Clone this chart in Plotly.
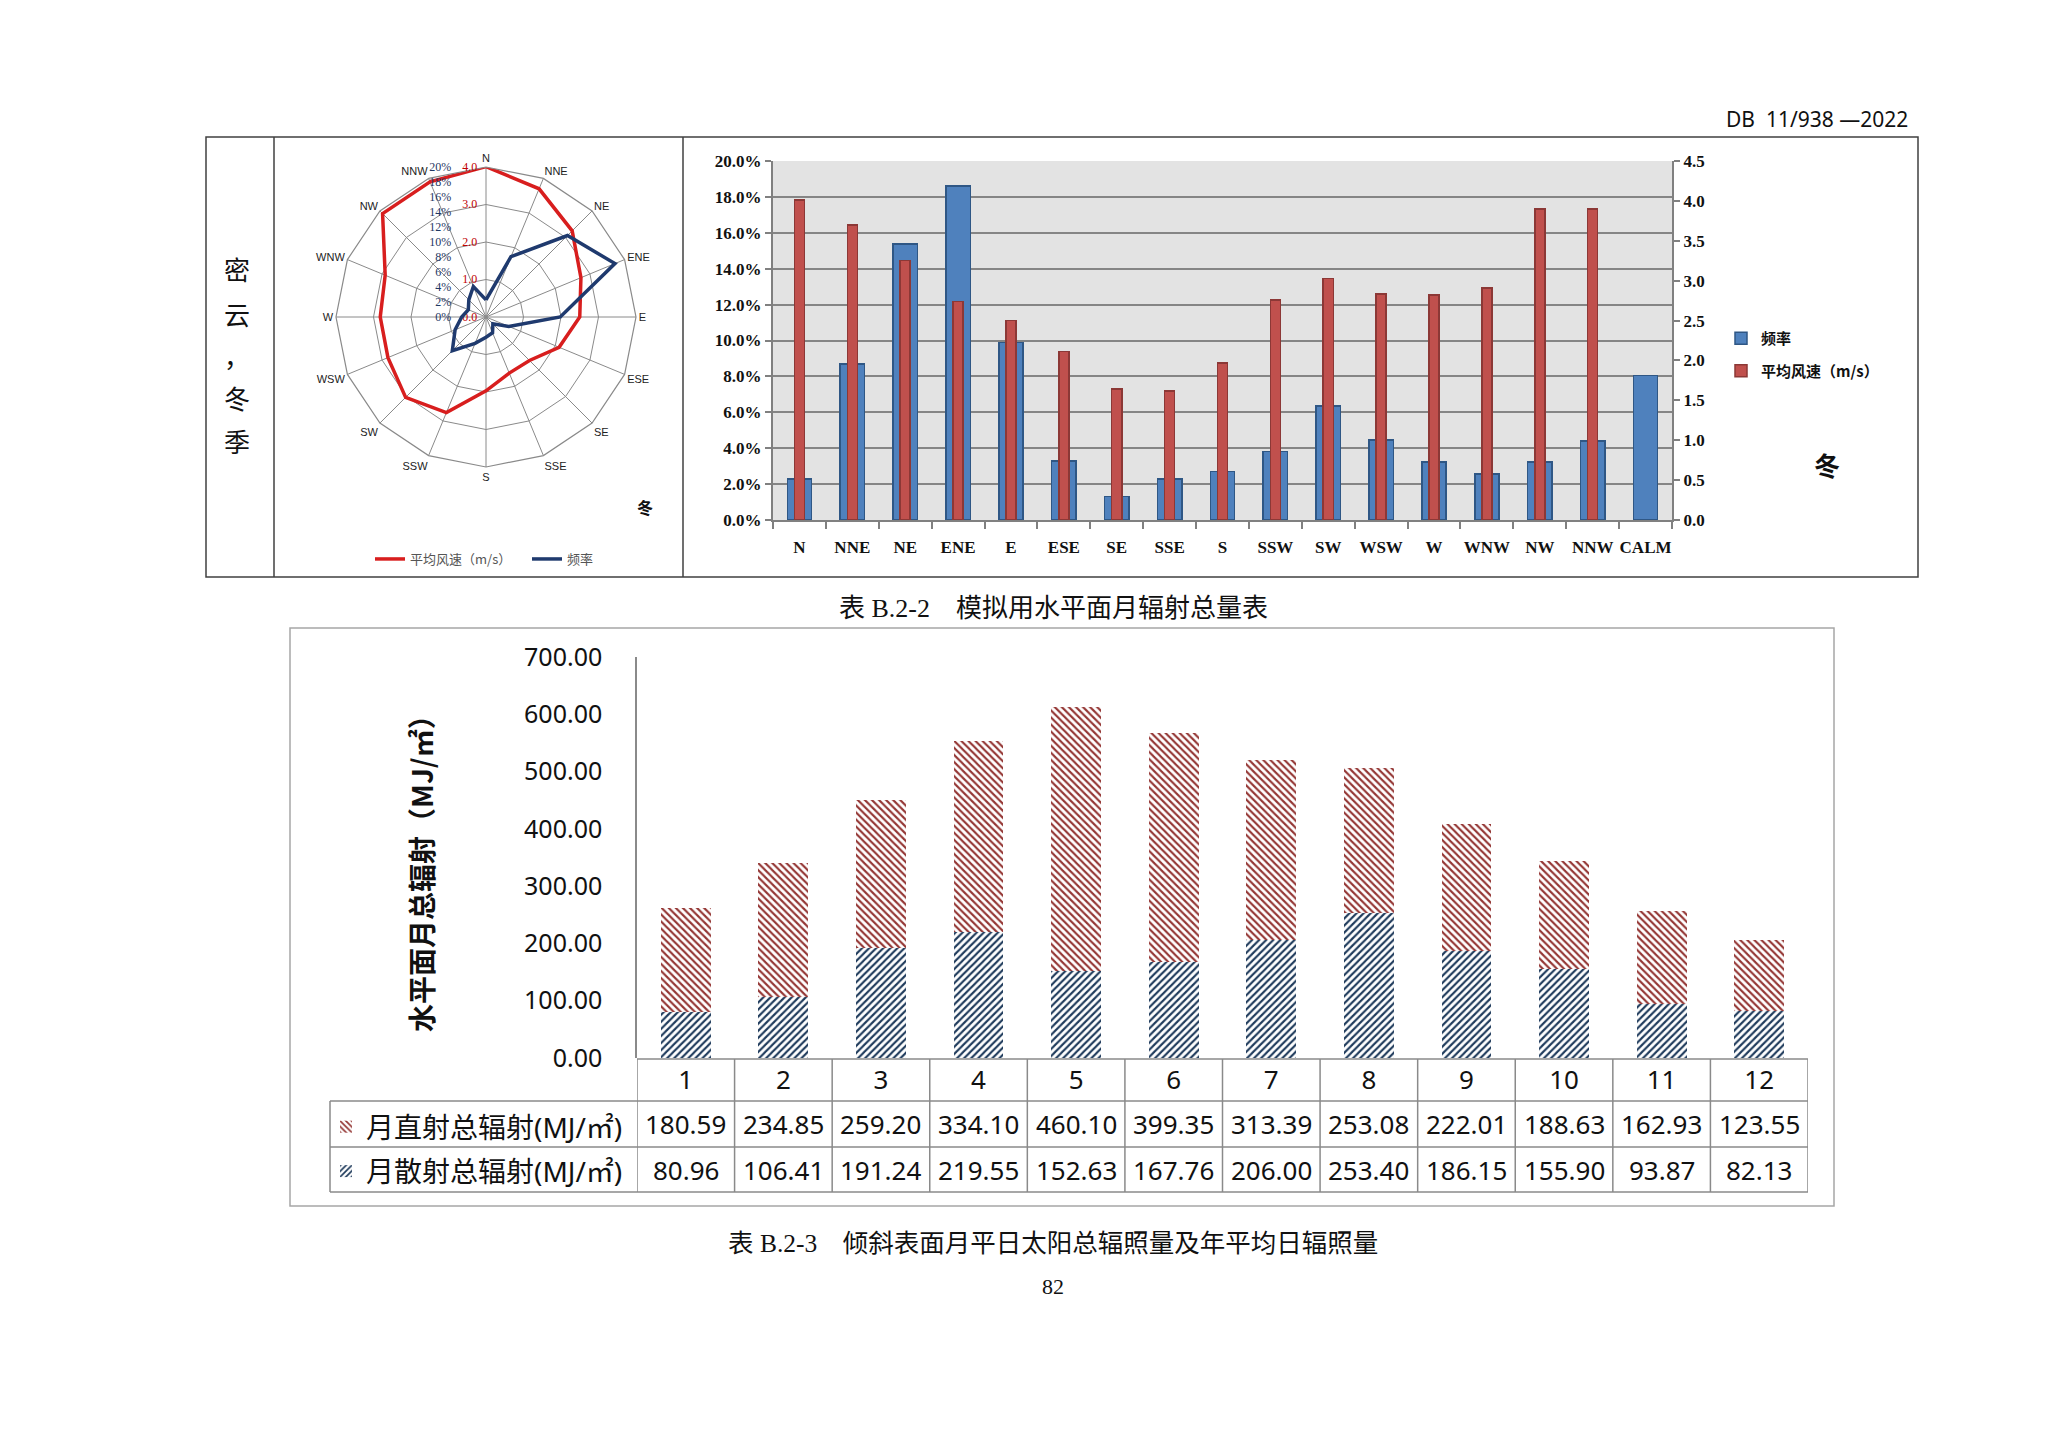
import plotly.graph_objects as go

W, H = 2048, 1447
OFF = 8


def fx(X):
    return (X - OFF) / W


def fy(Y):
    return 1 - (Y - OFF) / H


# ---------------- data ----------------
directions = ["N", "NNE", "NE", "ENE", "E", "ESE", "SE", "SSE",
              "S", "SSW", "SW", "WSW", "W", "WNW", "NW", "NNW"]
bar_categories = directions + ["CALM"]
frequency_pct = [2.28, 8.70, 15.37, 18.61, 9.90, 3.29, 1.30, 2.28,
                 2.70, 3.81, 6.35, 4.46, 3.24, 2.55, 3.24, 4.40, 8.05]
mean_speed = [4.01, 3.70, 3.25, 2.74, 2.50, 2.11, 1.64, 1.62,
              1.97, 2.76, 3.03, 2.83, 2.82, 2.91, 3.90, 3.90, None]

months = [1, 2, 3, 4, 5, 6, 7, 8, 9, 10, 11, 12]
direct_rad = [180.59, 234.85, 259.20, 334.10, 460.10, 399.35,
              313.39, 253.08, 222.01, 188.63, 162.93, 123.55]
diffuse_rad = [80.96, 106.41, 191.24, 219.55, 152.63, 167.76,
               206.00, 253.40, 186.15, 155.90, 93.87, 82.13]

speed_ticks = [0, 1, 2, 3, 4]
freq_ticks = [0, 2, 4, 6, 8, 10, 12, 14, 16, 18, 20]

CJK = "Noto Sans CJK SC"
SERIF = "Liberation Serif, Noto Sans CJK SC"
TOPFONT = dict(family="Liberation Serif", size=17, weight="bold", color="#111")

fig = go.Figure()

# ---------------- radar (wind rose) ----------------
radar_theta = directions + [directions[0]]
radar_speed = mean_speed[:16] + [mean_speed[0]]
radar_freq = frequency_pct[:16] + [frequency_pct[0]]

fig.add_trace(go.Scatterpolar(
    r=radar_speed, theta=radar_theta, subplot="polar", mode="lines",
    line=dict(color="#d81e1e", width=3.5), name="平均风速（m/s）",
    legend="legend2"))
fig.add_trace(go.Scatterpolar(
    r=radar_freq, theta=radar_theta, subplot="polar2", mode="lines",
    line=dict(color="#1f3a6e", width=3.5), name="频率",
    legend="legend2"))

# ---------------- top bar chart ----------------
fig.add_trace(go.Bar(
    x=bar_categories, y=[v / 100 for v in frequency_pct],
    xaxis="x", yaxis="y", width=0.46, name="频率",
    marker=dict(color="#4f81bd", line=dict(color="#2f5785", width=1.5)),
    legend="legend", legendgroup="a"))
fig.add_trace(go.Bar(
    x=bar_categories, y=mean_speed,
    xaxis="x", yaxis="y2", width=0.19, name="平均风速（m/s）",
    marker=dict(color="#c0504d", line=dict(color="#8c3836", width=1.5)),
    legend="legend", legendgroup="b"))

# ---------------- bottom stacked bar chart ----------------
fig.add_trace(go.Bar(
    x=months, y=diffuse_rad, xaxis="x2", yaxis="y3", width=0.51,
    name="月散射总辐射(MJ/㎡)",
    marker=dict(color="#1f3b5c", line=dict(width=0),
                pattern=dict(shape="/", fillmode="replace", bgcolor="white",
                             size=5, solidity=0.42)),
    legend="legend3", legendgroup="d", legendrank=2))
fig.add_trace(go.Bar(
    x=months, y=direct_rad, xaxis="x2", yaxis="y3", width=0.51,
    name="月直射总辐射(MJ/㎡)",
    marker=dict(color="#943634", line=dict(width=0),
                pattern=dict(shape="\\", fillmode="replace", bgcolor="white",
                             size=5, solidity=0.42)),
    legend="legend3", legendgroup="c", legendrank=1))

polar_domain = dict(x=[fx(336), fx(636)], y=[fy(467), fy(167)])

fig.update_layout(
    width=W, height=H,
    margin=dict(l=0, r=0, t=0, b=0, pad=0, autoexpand=False),
    paper_bgcolor="white",
    plot_bgcolor="rgba(0,0,0,0)",
    barmode="stack",
    font=dict(family=CJK, color="#222222"),
    polar=dict(
        domain=polar_domain, bgcolor="white", gridshape="linear",
        angularaxis=dict(direction="clockwise", rotation=90,
                         categoryorder="array", categoryarray=directions,
                         tickfont=dict(size=11, family="Liberation Sans", color="#222"),
                         gridcolor="#8a8a8a", linecolor="#8a8a8a", linewidth=1.2,
                         ticks=""),
        radialaxis=dict(range=[0, 4], tickvals=speed_ticks, tickformat=".1f",
                        angle=90, tickangle=90, side="counterclockwise",
                        tickfont=dict(size=12, color="#c00000", family="Liberation Serif"),
                        gridcolor="#8a8a8a", showline=False,
                        ticks="outside", ticklen=4, tickcolor="rgba(0,0,0,0)")),
    polar2=dict(
        domain=polar_domain, bgcolor="rgba(0,0,0,0)", gridshape="linear",
        angularaxis=dict(direction="clockwise", rotation=90,
                         categoryorder="array", categoryarray=directions,
                         showticklabels=False, showgrid=False, showline=False,
                         ticks=""),
        radialaxis=dict(range=[0, 20], tickvals=freq_ticks,
                        ticktext=[f"{v}%" for v in freq_ticks],
                        angle=90, tickangle=90, side="counterclockwise",
                        tickfont=dict(size=12, color="#1f3864", family="Liberation Serif"),
                        showgrid=False, showline=False,
                        ticks="outside", ticklen=30, tickcolor="rgba(0,0,0,0)")),
    xaxis=dict(domain=[fx(773), fx(1672)], anchor="y", type="category",
               categoryorder="array", categoryarray=bar_categories,
               tickfont=TOPFONT, tickangle=0, automargin=False,
               ticks="outside", tickson="boundaries", ticklen=7, tickcolor="#808080",
               tickwidth=2, showline=True, linecolor="#808080", linewidth=2,
               showgrid=False, ticklabelstandoff=11),
    yaxis=dict(domain=[fy(520), fy(161)], anchor="x", range=[0, 0.2], dtick=0.02,
               tickformat=".1%", showgrid=True, gridcolor="#858585", gridwidth=2,
               zeroline=False, showline=True, linecolor="#808080", linewidth=2,
               ticks="outside", ticklen=6, tickcolor="#808080", tickwidth=2,
               automargin=False, tickfont=TOPFONT),
    yaxis2=dict(overlaying="y", side="right", anchor="x", range=[0, 4.5], dtick=0.5,
                tickformat=".1f", showgrid=False, zeroline=False, showline=True,
                linecolor="#808080", linewidth=2, ticks="outside", ticklen=6,
                tickcolor="#808080", tickwidth=2, automargin=False,
                tickfont=TOPFONT),
    xaxis2=dict(domain=[fx(637), fx(1808)], anchor="y3",
                range=[0.5, 12.5], tickvals=months, ticktext=[str(m) for m in months],
                showline=False, showgrid=False, zeroline=False, ticks="",
                automargin=False,
                tickfont=dict(family="Noto Sans", size=26, color="#111"),
                ticklabelstandoff=4),
    yaxis3=dict(domain=[fy(1058), fy(657)], anchor="x2", range=[0, 700],
                dtick=100, tickformat=".2f", showgrid=False, zeroline=False,
                showline=True, linecolor="#8a8a8a", linewidth=1.5, ticks="",
                automargin=False,
                tickfont=dict(family="Noto Sans", size=25, color="#111"),
                ticklabelstandoff=28),
    legend=dict(x=fx(1721), y=fy(322), xanchor="left", yanchor="top",
                orientation="v", traceorder="grouped", tracegroupgap=10,
                bgcolor="rgba(0,0,0,0)",
                font=dict(family=CJK, size=15, weight="bold", color="#111")),
    legend2=dict(x=fx(370), y=fy(559), xanchor="left", yanchor="middle",
                 orientation="h", bgcolor="rgba(0,0,0,0)",
                 entrywidth=112, entrywidthmode="pixels",
                 font=dict(family=CJK, size=13, color="#555")),
    legend3=dict(x=fx(326), y=fy(1102), xanchor="left", yanchor="top",
                 orientation="v", traceorder="grouped", tracegroupgap=5,
                 bgcolor="rgba(0,0,0,0)",
                 font=dict(family="Noto Sans, Noto Sans CJK SC", size=28, color="#111")),
    showlegend=True,
)

shapes = []
# top table border
shapes.append(dict(type="rect", xref="paper", yref="paper",
                   x0=fx(206), x1=fx(1918), y0=fy(577), y1=fy(137),
                   line=dict(color="#404040", width=1.5)))
for X in (274, 683):
    shapes.append(dict(type="line", xref="paper", yref="paper",
                       x0=fx(X), x1=fx(X), y0=fy(577), y1=fy(137),
                       line=dict(color="#404040", width=1.5)))
# top bar chart plot background
shapes.append(dict(type="rect", xref="x domain", yref="y domain",
                   x0=0, x1=1, y0=0, y1=1, fillcolor="#e3e3e3",
                   line=dict(width=0), layer="below"))
# bottom chart frame
shapes.append(dict(type="rect", xref="paper", yref="paper",
                   x0=fx(290), x1=fx(1834), y0=fy(1206), y1=fy(628),
                   line=dict(color="#a6a6a6", width=1.5)))
# data table grid
TC = "#8a8a8a"
row_lines = [1059, 1101, 1147, 1192]
for i, Y in enumerate(row_lines):
    shapes.append(dict(type="line", xref="x2 domain", yref="paper",
                       x0=0, x1=1, y0=fy(Y), y1=fy(Y),
                       line=dict(color=TC, width=1.5)))
    if i > 0:
        shapes.append(dict(type="line", xref="paper", yref="paper",
                           x0=fx(330), x1=fx(637), y0=fy(Y), y1=fy(Y),
                           line=dict(color=TC, width=1.5)))
for k in range(len(months) + 1):
    shapes.append(dict(type="line", xref="x2", yref="paper",
                       x0=k + 0.5, x1=k + 0.5, y0=fy(1192), y1=fy(1059),
                       line=dict(color=TC, width=1.5)))
shapes.append(dict(type="line", xref="paper", yref="paper",
                   x0=fx(330), x1=fx(330), y0=fy(1192), y1=fy(1101),
                   line=dict(color=TC, width=1.5)))

annotations = []


def ann(text, X, Y, size, family=CJK, color="#222", xanchor="center", weight="normal", angle=0):
    annotations.append(dict(text=text, x=fx(X), y=fy(Y), xref="paper", yref="paper",
                            showarrow=False, xanchor=xanchor, yanchor="middle",
                            textangle=angle,
                            font=dict(size=size, family=family, color=color, weight=weight)))


ann("DB\u00a0\u00a011/938\u00a0—2022", 1910, 119, 21, family="Noto Sans", xanchor="right", color="#111")
for ch, Y in zip(["密", "云", "，", "冬", "季"], [268, 313, 355, 398, 441]):
    ann(ch, 237, Y, 26, color="#111")
ann("冬", 645, 507, 16, weight="bold", color="#111")
ann("冬", 1827, 464, 26, weight="bold", color="#111")
ann("表 B.2-2　模拟用水平面月辐射总量表", 1053, 609, 26, family=SERIF, color="#111")
ann("水平面月总辐射（MJ/㎡）", 421, 867, 28, weight="bold", color="#111", angle=-90)
ann("表 B.2-3　倾斜表面月平日太阳总辐照量及年平均日辐照量", 1053, 1243, 25.5, family=SERIF, color="#111")
ann("82", 1053, 1286, 22, family="Liberation Serif", color="#111")

for m, d, f in zip(months, direct_rad, diffuse_rad):
    for val, Y in ((d, 1124), (f, 1170)):
        annotations.append(dict(text=f"{val:.2f}", x=m, xref="x2", y=fy(Y), yref="paper",
                                showarrow=False, xanchor="center", yanchor="middle",
                                font=dict(size=26, family="Noto Sans", color="#111")))

fig.update_layout(shapes=shapes, annotations=annotations)

fig.write_html("out.html")
